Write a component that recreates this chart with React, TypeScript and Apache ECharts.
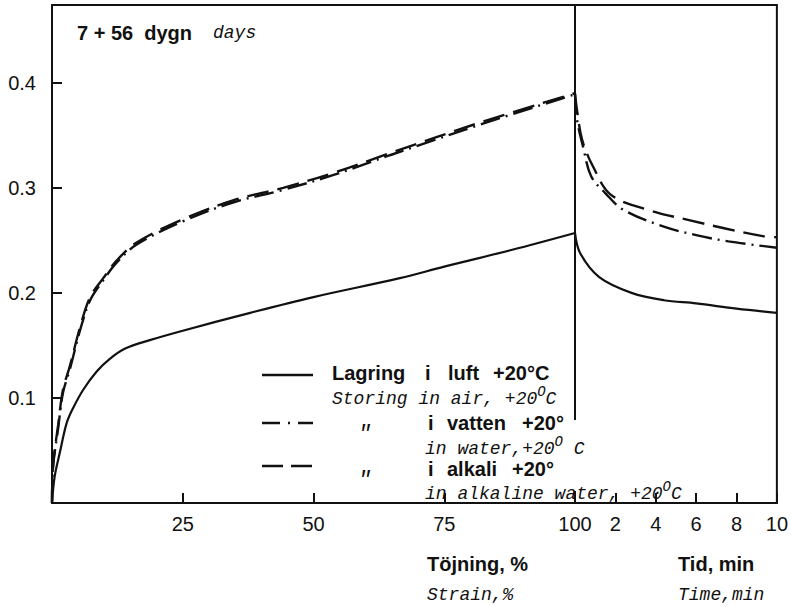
import React, { useEffect, useRef } from "react";
import * as echarts from "echarts";

// Left panel: strain, %
const strainAir = [0, 0.5, 1.5, 2.8, 4, 6, 8.5, 11, 14, 18.7, 25, 37.9, 50, 66.5, 75, 88, 100];
const valAir = [0, 0.025, 0.048, 0.076, 0.09, 0.108, 0.125, 0.137, 0.147, 0.155, 0.164, 0.181, 0.196, 0.214, 0.225, 0.241, 0.257];

const strainWater = [0, 0.2, 1.2, 2.1, 3.4, 5.4, 7.3, 9.8, 12.4, 16.2, 25, 34.6, 44.2, 53.7, 64.6, 82.4, 100];
const valWater = [0, 0.034, 0.072, 0.105, 0.127, 0.165, 0.193, 0.212, 0.229, 0.246, 0.268, 0.286, 0.298, 0.312, 0.331, 0.361, 0.389];

const strainAlkali = [0, 0.2, 1.2, 2.1, 3.4, 5.4, 7.3, 9.8, 12.4, 16.2, 25, 34.6, 44.2, 53.7, 64.6, 82.4, 100];
const valAlkali = [0, 0.036, 0.075, 0.108, 0.13, 0.168, 0.196, 0.214, 0.231, 0.248, 0.27, 0.288, 0.3, 0.314, 0.333, 0.363, 0.39];

// Right panel: time, min
const timeAir = [0, 0.25, 1.2, 2.8, 4.4, 6, 8, 10];
const relAir = [0.257, 0.238, 0.215, 0.2, 0.193, 0.19, 0.185, 0.181];

const timeWater = [0, 0.1, 0.4, 0.8, 1.5, 2.4, 4.4, 6, 7.6, 10];
const relWater = [0.389, 0.365, 0.339, 0.311, 0.295, 0.279, 0.263, 0.255, 0.249, 0.243];

const timeAlkali = [0, 0.1, 0.35, 0.9, 1.8, 3.8, 5.7, 7.5, 9.3, 10];
const relAlkali = [0.39, 0.374, 0.346, 0.32, 0.293, 0.278, 0.269, 0.261, 0.254, 0.253];

const yTicks = [0.1, 0.2, 0.3, 0.4];
const strainTicks = [25, 50, 75, 100];
const timeTicks = [2, 4, 6, 8, 10];

const zip = (xs: number[], ys: number[]) => xs.map((x, i) => [x, ys[i]]);

const SANS = "Liberation Sans";
const MONO = "Liberation Mono";

export default function App() {
  const ref = useRef<HTMLDivElement>(null);
  useEffect(() => {
    const chart = echarts.init(ref.current!, null, { renderer: "svg" });
    const axisLine = { show: false };
    const grids = [
      { left: 52, top: 5, width: 523, height: 498, show: true, borderColor: "#111", borderWidth: 2, backgroundColor: "transparent" },
      { left: 575, top: 5, width: 208, height: 498, show: true, borderColor: "#111", borderWidth: 2, backgroundColor: "transparent" },
    ];
    const labelStyle = { color: "#111", fontFamily: SANS, fontSize: 20 };
    const solid = { color: "#111", width: 2.2, type: "solid" as const };
    const dashDot = { color: "#111", width: 2.4, type: [20, 6, 2, 6] };
    const dashed = { color: "#111", width: 2.4, type: [22, 9] };
    const mk = (name: string, xi: number, data: number[][], ls: any) => ({
      name,
      type: "line",
      xAxisIndex: xi,
      yAxisIndex: xi,
      data,
      smooth: 0.35,
      showSymbol: false,
      symbol: "none",
      lineStyle: ls,
      z: 3,
    });
    const text = (x: number, y: number, t: string, extra: any = {}) => ({
      type: "text",
      x,
      y,
      z: 50,
      style: {
        text: t,
        fill: "#111",
        fontFamily: SANS,
        fontSize: 20,
        fontWeight: "bold",
        verticalAlign: "middle",
        align: "left",
        ...extra,
      },
    });
    const it = (x: number, y: number, t: string, extra: any = {}) =>
      text(x, y, t, {
        fontFamily: MONO,
        fontStyle: "italic",
        fontWeight: "normal",
        fontSize: 18,
        ...extra,
      });
    const CH = 10.8; // monospace advance at 18px
    const sup = (x: number, y: number) => it(x, y - 7, "O", { fontSize: 14 });
    chart.setOption({
      animation: false,
      grid: grids,
      xAxis: [
        {
          type: "value", gridIndex: 0, min: 0, max: 100, interval: 25,
          axisLine,
          axisTick: { show: true, inside: true, length: 10, lineStyle: { color: "#111", width: 2 } },
          axisLabel: { ...labelStyle, margin: 11, formatter: (v: number) => (strainTicks.includes(v) ? String(v) : "") },
          splitLine: { show: false },
        },
        {
          type: "value", gridIndex: 1, min: 0, max: 10, interval: 2,
          axisLine,
          axisTick: { show: true, inside: true, length: 10, lineStyle: { color: "#111", width: 2 } },
          axisLabel: { ...labelStyle, margin: 11, showMaxLabel: true, formatter: (v: number) => (timeTicks.includes(v) ? String(v) : "") },
          splitLine: { show: false },
        },
      ],
      yAxis: [
        {
          type: "value", gridIndex: 0, min: 0, max: 0.474, interval: 0.1,
          axisLine,
          axisTick: { show: true, inside: true, length: 10, lineStyle: { color: "#111", width: 2 } },
          axisLabel: { ...labelStyle, margin: 16, showMaxLabel: false, formatter: (v: number) => (yTicks.some((t) => Math.abs(t - v) < 1e-6) ? v.toFixed(1) : "") },
          splitLine: { show: false },
        },
        {
          type: "value", gridIndex: 1, min: 0, max: 0.474, interval: 0.1,
          show: false,
          splitLine: { show: false },
        },
      ],
      series: [
        mk("Lagring i luft +20°C", 0, zip(strainAir, valAir), solid),
        mk("i vatten +20°", 0, zip(strainWater, valWater), dashDot),
        mk("i alkali +20°", 0, zip(strainAlkali, valAlkali), dashed),
        mk("Lagring i luft +20°C", 1, zip(timeAir, relAir), solid),
        mk("i vatten +20°", 1, zip(timeWater, relWater), dashDot),
        mk("i alkali +20°", 1, zip(timeAlkali, relAlkali), dashed),
      ],
      graphic: [
        { type: "rect", z: 40, shape: { x: 570, y: 420, width: 10, height: 71 }, style: { fill: "#fff" } },
        text(77, 33, "7 + 56  dygn"),
        it(213, 33, "days"),
        // legend samples
        { type: "line", z: 50, shape: { x1: 262, y1: 375, x2: 313, y2: 375 }, style: { stroke: "#111", lineWidth: 2.4 } },
        { type: "line", z: 50, shape: { x1: 262, y1: 423, x2: 313, y2: 423 }, style: { stroke: "#111", lineWidth: 2.4, lineDash: [18, 8, 2, 8] } },
        { type: "line", z: 50, shape: { x1: 262, y1: 466, x2: 313, y2: 466 }, style: { stroke: "#111", lineWidth: 2.4, lineDash: [21, 8] } },
        text(332, 373, "Lagring"),
        text(425, 373, "i"),
        text(448, 373, "luft"),
        text(493, 373, "+20°C"),
        it(332, 399, "Storing in air, +20"),
        sup(332 + 19 * CH, 399),
        it(332 + 19 * CH + 8.4, 399, "C"),
        text(428, 423, "i"),
        text(447, 423, "vatten"),
        text(522, 423, "+20°"),
        it(358, 434, "″", { fontSize: 22 }),
        it(425, 449, "in water,+20"),
        sup(425 + 12 * CH, 449),
        it(425 + 12 * CH + 8.4, 449, " C"),
        text(428, 469, "i"),
        text(447, 469, "alkali"),
        text(512, 469, "+20°"),
        it(358, 480, "″", { fontSize: 22 }),
        it(425, 494, "in alkaline water, +20"),
        sup(425 + 22 * CH, 494),
        it(425 + 22 * CH + 8.4, 494, "C"),
        // axis titles
        text(427, 564, "Töjning, %"),
        it(427, 595, "Strain,%"),
        text(678, 564, "Tid, min"),
        it(678, 595, "Time,min"),
      ],
    });
    return () => chart.dispose();
  }, []);
  return <div ref={ref} style={{ position: "fixed", left: 0, top: 0, width: 791, height: 607, background: "#fff" }} />;
}
